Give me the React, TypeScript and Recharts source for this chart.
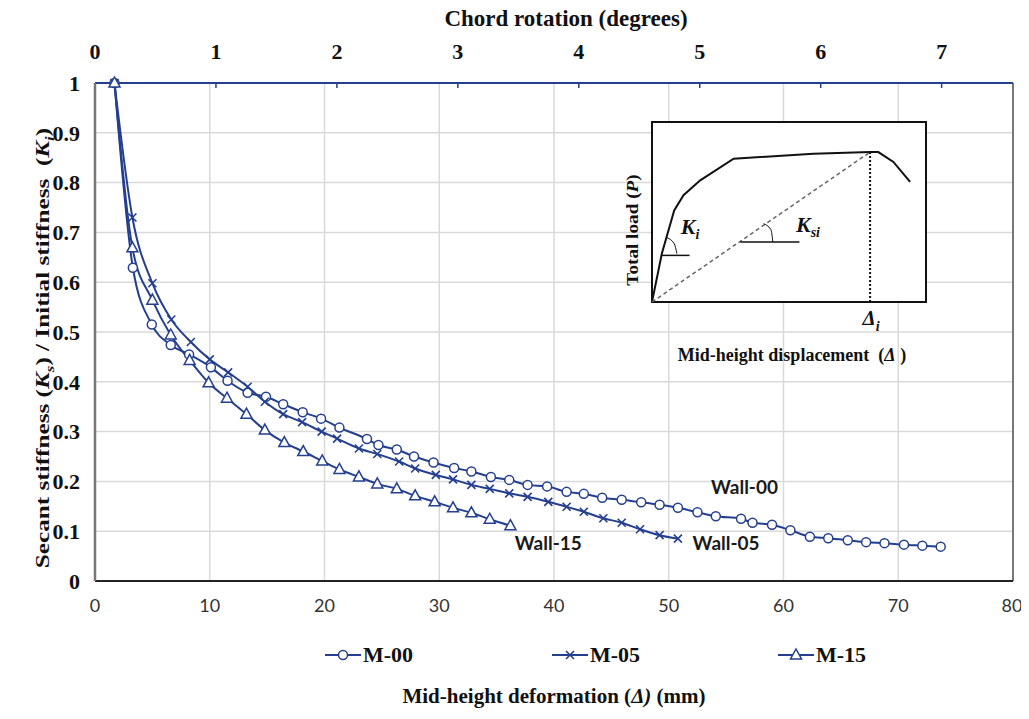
import {
  LineChart,
  Line,
  XAxis,
  YAxis,
  CartesianGrid,
  ReferenceLine,
  ReferenceDot,
  ReferenceArea,
} from 'recharts'

// mid-height deformation (mm) vs normalised secant stiffness
const m00X = [1.7, 3.3, 4.95, 6.6, 8.2, 10.1, 11.55, 13.3, 14.9, 16.4, 18.1, 19.7, 21.3, 23.7, 24.7, 26.3, 27.8, 29.5, 31.3, 32.8, 34.5, 36.1, 37.7, 39.4, 41.1, 42.6, 44.2, 45.9, 47.6, 49.2, 50.8, 52.5, 54.1, 56.3, 57.3, 59.0, 60.6, 62.3, 63.9, 65.6, 67.2, 68.8, 70.5, 72.1, 73.7]
const m00Y = [1.0, 0.629, 0.515, 0.474, 0.455, 0.429, 0.402, 0.378, 0.37, 0.355, 0.339, 0.326, 0.308, 0.285, 0.273, 0.264, 0.25, 0.238, 0.227, 0.22, 0.209, 0.203, 0.193, 0.19, 0.179, 0.175, 0.167, 0.163, 0.158, 0.153, 0.147, 0.138, 0.13, 0.125, 0.117, 0.113, 0.102, 0.089, 0.086, 0.082, 0.078, 0.076, 0.073, 0.071, 0.069]

const m05X = [1.7, 3.26, 5.0, 6.65, 8.35, 10.0, 11.6, 13.3, 14.8, 16.4, 18.05, 19.75, 21.1, 23.0, 24.6, 26.5, 27.9, 29.7, 31.2, 32.8, 34.4, 36.1, 37.7, 39.5, 41.1, 42.6, 44.3, 45.9, 47.5, 49.2, 50.8]
const m05Y = [1.0, 0.73, 0.598, 0.525, 0.48, 0.445, 0.419, 0.39, 0.36, 0.335, 0.319, 0.3, 0.286, 0.266, 0.255, 0.24, 0.226, 0.213, 0.204, 0.193, 0.185, 0.176, 0.169, 0.159, 0.149, 0.139, 0.126, 0.117, 0.104, 0.092, 0.085]

const m15X = [1.7, 3.26, 5.0, 6.6, 8.25, 9.9, 11.5, 13.2, 14.8, 16.5, 18.15, 19.8, 21.3, 23.0, 24.6, 26.3, 27.9, 29.6, 31.2, 32.8, 34.4, 36.2]
const m15Y = [1.0, 0.669, 0.564, 0.494, 0.443, 0.398, 0.367, 0.335, 0.303, 0.278, 0.26, 0.241, 0.224, 0.209, 0.195, 0.185, 0.171, 0.159, 0.147, 0.137, 0.124, 0.111]

const xTicks = [0, 10, 20, 30, 40, 50, 60, 70, 80]
const yTicks = [0, 0.1, 0.2, 0.3, 0.4, 0.5, 0.6, 0.7, 0.8, 0.9, 1]
const degTicks = [0, 1, 2, 3, 4, 5, 6, 7]

// wall labels: [text, x, y]
const wallLabels: [string, number, number][] = [
  ['Wall-00', 56.6, 0.189],
  ['Wall-05', 55.0, 0.076],
  ['Wall-15', 39.5, 0.076],
]

// inset sketch (0-100 units inside the box)
const insetCurveX = [0, 3.6, 8.1, 11.5, 17.6, 29.8, 58.9, 79.6, 82.6, 88.1, 94.2]
const insetCurveY = [0, 26.9, 50.9, 59.3, 67.6, 79.6, 82.4, 83.3, 83.3, 77.8, 66.7]
const secantX = [0, 79.6]
const secantY = [0, 83.3]
const peakDropX = [79.6, 79.6]
const peakDropY = [83.3, 0]
const kiBaseX = [3.6, 13.7]
const kiBaseY = [25.9, 25.9]
const ksiBaseX = [32.2, 53.8]
const ksiBaseY = [33.3, 33.3]
const kiArcX = [5.5, 8.1, 9.1]
const kiArcY = [35.7, 32.4, 26.9]
const ksiArcX = [40.7, 43.4, 44.1]
const ksiArcY = [43.5, 40.2, 33.3]

const zip = (xs: number[], ys: number[]) => xs.map((x, i) => ({ x, y: ys[i] }))

const NAVY = '#243f8f'
const SERIF = '"Liberation Serif", "Times New Roman", serif'
const SANS = 'Lato, "Open Sans", sans-serif'

const circleDot = (p: any) => (
  <circle key={`c${p.index}`} cx={p.cx} cy={p.cy} r={4.5} fill="#fff" stroke={NAVY} strokeWidth={1.5} />
)
const crossDot = (p: any) => (
  <path
    key={`x${p.index}`}
    d={`M${p.cx - 4},${p.cy - 4}L${p.cx + 4},${p.cy + 4}M${p.cx - 4},${p.cy + 4}L${p.cx + 4},${p.cy - 4}`}
    stroke={NAVY}
    strokeWidth={1.6}
    fill="none"
  />
)
const triDot = (p: any) => (
  <path
    key={`t${p.index}`}
    d={`M${p.cx},${p.cy - 6}L${p.cx + 5.5},${p.cy + 4}L${p.cx - 5.5},${p.cy + 4}Z`}
    stroke={NAVY}
    strokeWidth={1.5}
    fill="#fff"
  />
)

const abs = (left: number, top: number, extra: any = {}) => ({
  position: 'absolute' as const,
  left,
  top,
  transform: 'translate(-50%, -50%)',
  whiteSpace: 'nowrap' as const,
  fontFamily: SERIF,
  fontWeight: 700,
  color: '#111',
  lineHeight: 1,
  ...extra,
})

function LegendItem({ x, label, dot }: { x: number; label: string; dot: (p: any) => any }) {
  return (
    <div style={{ position: 'absolute', left: x, top: 634, display: 'flex', alignItems: 'center' }}>
      <svg width={36} height={24}>
        <line x1={0} y1={12} x2={36} y2={12} stroke={NAVY} strokeWidth={2} />
        {dot({ cx: 18, cy: 12, index: 0 })}
      </svg>
      <span style={{ fontFamily: SERIF, fontWeight: 700, fontSize: 22, color: '#111', marginLeft: 2 }}>{label}</span>
    </div>
  )
}

function Inset() {
  const thin = { stroke: '#111', strokeWidth: 1.5, dot: false, isAnimationActive: false }
  return (
    <div style={{ position: 'absolute', left: 600, top: 100 }}>
      <LineChart width={340} height={270} margin={{ top: 14, right: 22, bottom: 76, left: 44 }}>
        <XAxis type="number" dataKey="x" domain={[0, 100]} hide allowDataOverflow />
        <YAxis type="number" dataKey="y" domain={[0, 100]} hide allowDataOverflow />
        <ReferenceArea x1={0} x2={100} y1={0} y2={100} fill="#fff" fillOpacity={1} stroke="#111" strokeWidth={2} />
        <Line data={zip(insetCurveX, insetCurveY)} dataKey="y" type="linear" stroke="#111" strokeWidth={2} dot={false} isAnimationActive={false} />
        <Line data={zip(secantX, secantY)} dataKey="y" type="linear" stroke="#666" strokeWidth={1.5} strokeDasharray="4 3" dot={false} isAnimationActive={false} />
        <Line data={zip(peakDropX, peakDropY)} dataKey="y" type="linear" stroke="#111" strokeWidth={2} strokeDasharray="2 2" dot={false} isAnimationActive={false} />
        <Line data={zip(kiBaseX, kiBaseY)} dataKey="y" type="linear" {...thin} />
        <Line data={zip(ksiBaseX, ksiBaseY)} dataKey="y" type="linear" {...thin} />
        <Line data={zip(kiArcX, kiArcY)} dataKey="y" type="monotone" {...thin} strokeWidth={1} />
        <Line data={zip(ksiArcX, ksiArcY)} dataKey="y" type="monotone" {...thin} strokeWidth={1} />
      </LineChart>
    </div>
  )
}

export default function App() {
  const tickSerif = { fill: '#111', fontSize: 22, fontFamily: SERIF, fontWeight: 700 }
  return (
    <div style={{ position: 'relative', width: 1013, height: 705 }}>
      <LineChart width={1013} height={640} margin={{ top: 35, right: 8, bottom: 37, left: 27 }}>
        <CartesianGrid stroke="#d9d9d9" strokeWidth={1.5} />
        <XAxis
          type="number"
          dataKey="x"
          domain={[0, 80]}
          ticks={xTicks}
          height={30}
          tickLine={false}
          tickSize={0}
          tickMargin={18}
          axisLine={{ stroke: '#222', strokeWidth: 2 }}
          tick={{ fill: '#333', fontSize: 18, fontFamily: SANS }}
        />
        <XAxis
          xAxisId="deg"
          orientation="top"
          type="number"
          dataKey="x"
          domain={[0, 7.59]}
          ticks={degTicks}
          allowDataOverflow
          height={40}
          tickSize={-5}
          tickMargin={29}
          tickLine={{ stroke: NAVY, strokeWidth: 1.5 }}
          axisLine={{ stroke: NAVY, strokeWidth: 2 }}
          tick={tickSerif}
        />
        <YAxis
          type="number"
          domain={[0, 1]}
          ticks={yTicks}
          width={60}
          tickLine={false}
          tickSize={0}
          tickMargin={15}
          axisLine={{ stroke: '#777', strokeWidth: 2.5 }}
          tick={tickSerif}
        />
        <ReferenceLine x={80} stroke="#555" strokeWidth={1.5} />
        {/* carrier for the chord-rotation axis, not drawn */}
        <Line
          xAxisId="deg"
          data={degTicks.map((d) => ({ x: d, y: 1 }))}
          dataKey="y"
          stroke="none"
          dot={false}
          activeDot={false}
          legendType="none"
          isAnimationActive={false}
        />
        <Line data={zip(m00X, m00Y)} dataKey="y" type="monotone" stroke={NAVY} strokeWidth={2} dot={circleDot} isAnimationActive={false} />
        <Line data={zip(m05X, m05Y)} dataKey="y" type="monotone" stroke={NAVY} strokeWidth={2} dot={crossDot} isAnimationActive={false} />
        <Line data={zip(m15X, m15Y)} dataKey="y" type="monotone" stroke={NAVY} strokeWidth={2} dot={triDot} isAnimationActive={false} />
        {wallLabels.map(([t, x, y]) => (
          <ReferenceDot
            key={t}
            x={x}
            y={y}
            r={0}
            fill="none"
            stroke="none"
            label={{ value: t, position: 'center', fill: '#1a1a1a', fontSize: 19, fontFamily: SANS, fontWeight: 700 }}
          />
        ))}
      </LineChart>

      <Inset />

      <div style={abs(558, 10, { fontSize: 23, fontFamily: '"Liberation Serif", serif' })}>Chord rotation (degrees)</div>
      <div style={abs(37, 340, { fontSize: 18, transform: 'translate(-50%, -50%) rotate(-90deg) scaleX(1.4)' })}>
        Secant stiffness (<i>K</i><sub style={{ fontSize: 12 }}><i>s</i></sub>) / Initial stiffness&nbsp; (<i>K</i>
        <sub style={{ fontSize: 12 }}><i>i</i></sub>)
      </div>
      <div style={abs(546, 688, { fontSize: 21 })}>
        Mid-height deformation (<i>Δ)</i> (mm)
      </div>

      <LegendItem x={317} label="M-00" dot={circleDot} />
      <LegendItem x={544} label="M-05" dot={crossDot} />
      <LegendItem x={770} label="M-15" dot={triDot} />

      <div style={abs(625, 222, { fontSize: 16, transform: 'translate(-50%, -50%) rotate(-90deg) scaleX(1.2)' })}>
        Total load (<i>P</i>)
      </div>
      <div style={abs(784, 347, { fontSize: 18 })}>
        Mid-height displacement&nbsp; (<i>Δ</i> )
      </div>
      <div style={abs(682, 221, { fontSize: 22 })}>
        <i>K</i>
        <sub style={{ fontSize: 14 }}><i>i</i></sub>
      </div>
      <div style={abs(800, 219, { fontSize: 22 })}>
        <i>K</i>
        <sub style={{ fontSize: 14 }}><i>si</i></sub>
      </div>
      <div style={abs(863, 313, { fontSize: 21 })}>
        <i>Δ</i>
        <sub style={{ fontSize: 14 }}><i>i</i></sub>
      </div>
    </div>
  )
}
